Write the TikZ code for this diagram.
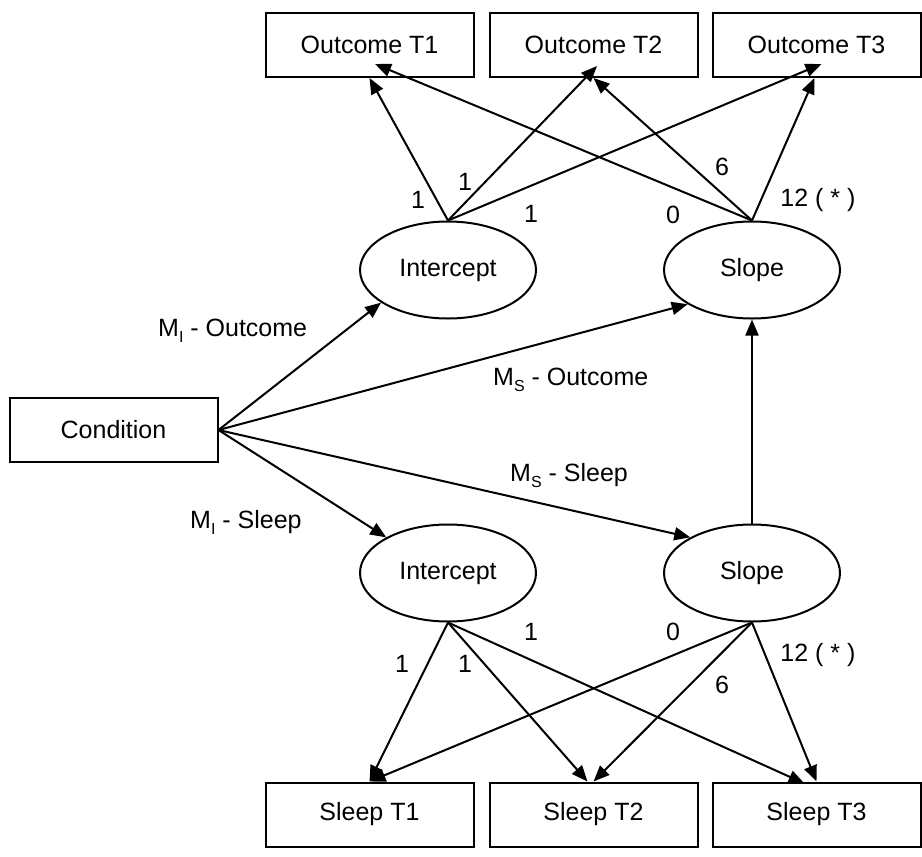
\documentclass[tikz,border=0pt]{standalone}
\usepackage{fontspec}
\setmainfont{Liberation Sans}
\usetikzlibrary{arrows.meta,shapes.geometric}
\newcommand{\subl}[1]{\raisebox{-6pt}{\fontsize{16}{16}\selectfont #1}}
\begin{document}
\begin{tikzpicture}[x=1pt,y=-1pt,
  txt/.style={font=\fontsize{25}{30}\selectfont},
  obsbox/.style={draw, line width=2pt, minimum width=208pt, minimum height=64pt, inner sep=0pt, txt},
  latent/.style={draw, ellipse, line width=2pt, minimum width=176pt, minimum height=97pt, inner sep=0pt, txt},
  arr/.style={line width=2pt, -{Triangle[length=16pt,width=13pt]}},
  lbl/.style={inner sep=0pt, txt}]
\useasboundingbox (0,0) rectangle (922,857);
% observed boxes
\node[obsbox] (o1) at (369.5,45) {Outcome T1};
\node[obsbox] (o2) at (593.5,45) {Outcome T2};
\node[obsbox] (o3) at (816.5,45) {Outcome T3};
\node[obsbox] (cond) at (113.5,430) {Condition};
\node[obsbox] (sl1) at (369.5,814.5) {Sleep T1};
\node[obsbox] (sl2) at (593.5,814.5) {Sleep T2};
\node[obsbox] (sl3) at (816.5,814.5) {Sleep T3};
% latent ellipses
\node[latent] (i1) at (448,270) {Intercept};
\node[latent] (s1) at (752,270) {Slope};
\node[latent] (i2) at (448,573) {Intercept};
\node[latent] (s2) at (752,573) {Slope};
% arrow tips
\coordinate (o2i) at ([xshift=3.5pt,yshift=12pt]o2.south);
\coordinate (o3i) at ([xshift=5pt,yshift=14pt]o3.south);
\coordinate (o1s) at ([xshift=5.5pt,yshift=14pt]o1.south);
\coordinate (o3s) at ([xshift=-2pt]o3.south);
\coordinate (sl2i) at ([xshift=-6pt]sl2.north);
\coordinate (sl3i) at ([xshift=-12pt,yshift=-2pt]sl3.north);
% growth paths upper
\draw[arr] (i1.north) -- (o1.south);
\draw[arr] (i1.north) -- (o2i);
\draw[arr] (i1.north) -- (o3i);
\draw[arr] (s1.north) -- (o1s);
\draw[arr] (s1.north) -- (o2.south);
\draw[arr] (s1.north) -- (o3s);
% growth paths lower
\draw[arr] (i2.south) -- (sl1.north);
\draw[arr] (i2.south) -- (sl2i);
\draw[arr] (i2.south) -- (sl3i);
\draw[arr] (s2.south) -- (sl1.north);
\draw[arr] (s2.south) -- (sl2.north);
\draw[arr] (s2.south) -- (sl3.north);
% condition paths
\draw[arr] (cond.east) -- (i1.206.9);
\draw[arr] (cond.east) -- (s1.208.7);
\draw[arr] (cond.east) -- (i2.150.2);
\draw[arr] (cond.east) -- (s2.150.6);
\draw[arr] (s2.north) -- (s1.south);
% loadings labels upper
\node[lbl] (a1) at (418,200) {1};
\node[lbl] (a2) at (465,182) {1};
\node[lbl] (a3) at (531,214) {1};
\node[lbl] (a4) at (673,215) {0};
\node[lbl] (a5) at (722,167) {6};
\node[lbl] (a6) at (818,200) {12 ( * )};
% loadings labels lower
\node[lbl] (b1) at (531,632) {1};
\node[lbl] (b2) at (673,632) {0};
\node[lbl] (b3) at (818,655) {12 ( * )};
\node[lbl] (b4) at (402,664) {1};
\node[lbl] (b5) at (465,664) {1};
\node[lbl] (b6) at (722,685) {6};
% path labels
\node[lbl, anchor=base west] (c1) at (158,336) {M\subl{I} - Outcome};
\node[lbl, anchor=base west] (c2) at (493,385) {M\subl{S} - Outcome};
\node[lbl, anchor=base west] (c3) at (510,481) {M\subl{S} - Sleep};
\node[lbl, anchor=base west] (c4) at (190,528) {M\subl{I} - Sleep};
\end{tikzpicture}
\end{document}
